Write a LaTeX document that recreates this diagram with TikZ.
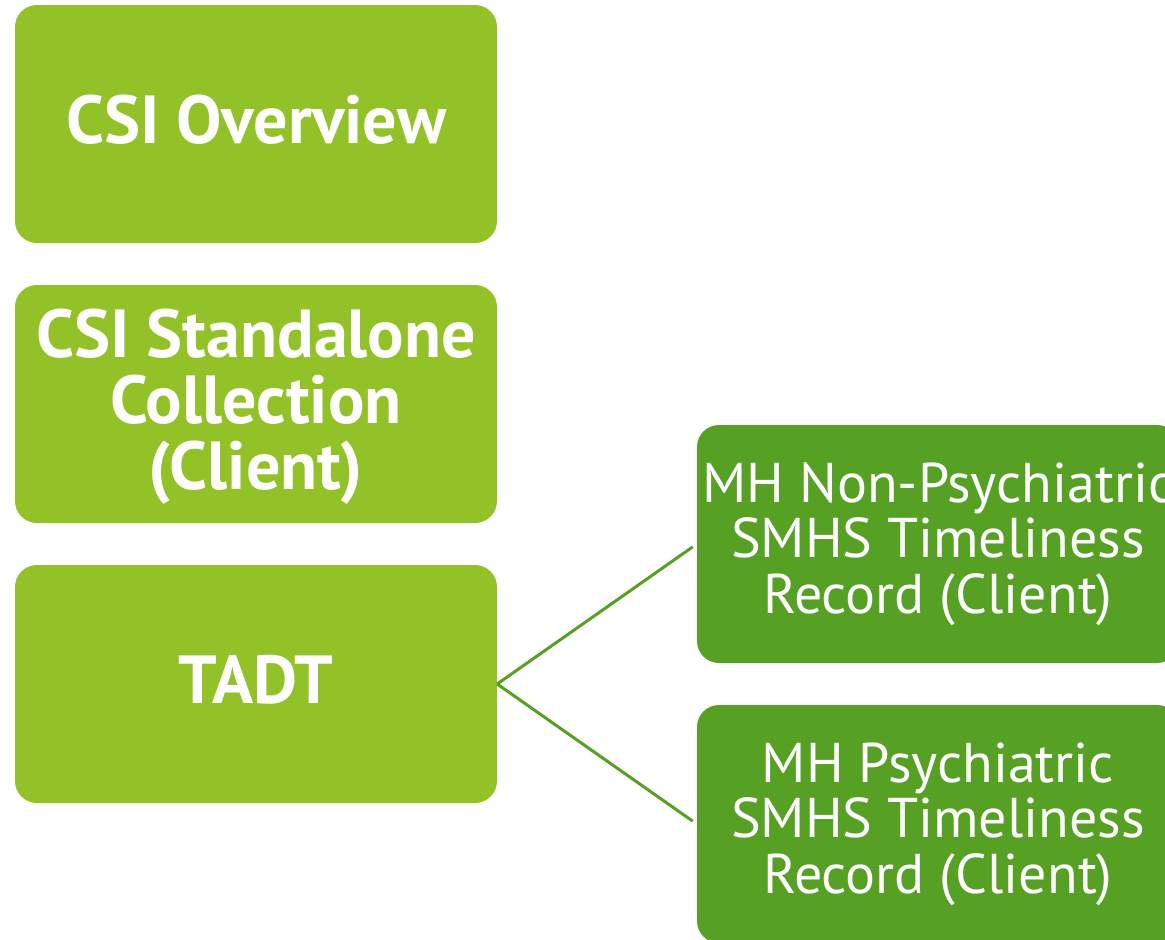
\documentclass[tikz,border=0pt]{standalone}
\usepackage{fontspec}
\setmainfont{PT Sans}
\definecolor{lgreen}{HTML}{92C227}
\definecolor{dgreen}{HTML}{56A023}
\begin{document}
\begin{tikzpicture}[x=1pt,y=-1pt,
  boxbase/.style={rounded corners=22pt, minimum width=482pt, minimum height=238pt, inner sep=0pt},
  lbox/.style={boxbase, fill=lgreen},
  rbox/.style={boxbase, fill=dgreen},
  ltext/.style={text=white, align=center, inner sep=0pt, font=\bfseries\fontsize{68}{66}\selectfont},
  rtext/.style={text=white, align=center, inner sep=0pt, font=\fontsize{56}{55.5}\selectfont},
  link/.style={draw=dgreen, line width=3pt, shorten >=5pt}]
\useasboundingbox (0,0) rectangle (1165,940);
\clip (0,0) rectangle (1165,940);
\node[lbox] (b1) at (256,124) {};
\node[lbox] (b2) at (256,404) {};
\node[lbox] (b3) at (256,684) {};
\node[rbox] (r1) at (938,544) {};
\node[rbox] (r2) at (938,824) {};
\node[ltext] (t1) at ([yshift=4pt]b1.center) {CSI Overview};
\node[ltext] (t2) at ([yshift=-3pt]b2.center) {CSI Standalone\\Collection\\(Client)};
\node[ltext] (t3) at ([yshift=4pt]b3.center) {TADT};
\node[rtext] (u1) at (r1.center) {MH Non-Psychiatric\\SMHS Timeliness\\Record (Client)};
\node[rtext] (u2) at (r2.center) {MH Psychiatric\\SMHS Timeliness\\Record (Client)};
\draw[link] (b3.east) -- (r1.west);
\draw[link] (b3.east) -- (r2.west);
\end{tikzpicture}
\end{document}
